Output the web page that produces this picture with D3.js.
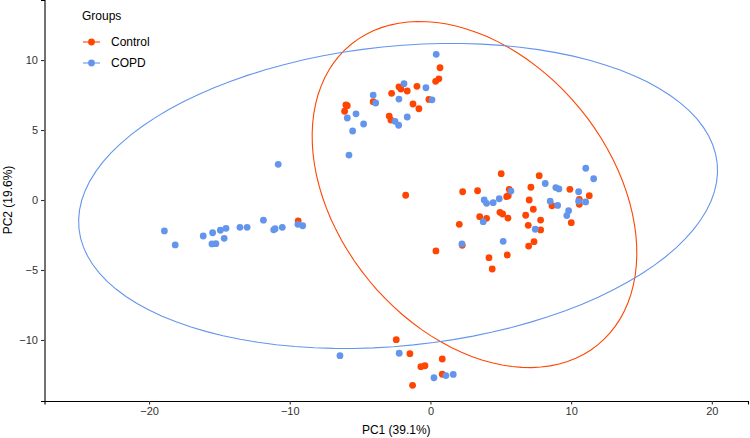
<!DOCTYPE html>
<html>
<head>
<meta charset="utf-8">
<script src="https://cdn.jsdelivr.net/npm/d3@7"></script>
<style>
  body { margin: 0; background: #fff; }
  svg { display: block; font-family: "Liberation Sans", Arial, Helvetica, sans-serif; }
</style>
</head>
<body>
<div class="chart"></div>
<script>
// groups
var groups = ["Control", "COPD"];
var colors = ["#FF4500", "#6495ED"];

// Control scores (PC1, PC2)
var controlPC1 = [0.68, 0.37, 0.60, -2.24, -2.10, -1.65, -0.96, -2.76, -4.07, -1.24, -0.82, -0.11, -6.01, -5.91, -6.10, -2.93, -2.81,
  -9.40,
  5.03, 7.73, 2.29, 3.35, 5.60, 5.42, 5.53, 7.14, 9.91, 11.29, 7.02, 7.31, 8.64, 10.58, 10.58, 10.01, 4.94, 5.13, 5.51, 3.50, 3.99, 2.05,
  6.77, 7.83, 6.95, 7.83, 7.36, 6.98, 2.26, 5.46, 4.16, 4.39, -1.76, 0.39,
  -2.43, -1.46, -0.68, -0.39, 0.84, 0.84, -1.27];
var controlPC2 = [9.45, 8.48, 8.66, 8.09, 7.93, 7.79, 8.12, 7.62, 7.02, 6.86, 6.52, 7.19, 6.79, 6.74, 6.34, 6.00, 5.71,
  -1.50,
  1.88, 1.74, 0.59, 0.66, 0.76, 0.24, 0.31, 0.91, 0.76, 0.31, 0.00, -0.66, -0.41, 0.05, -0.31, -1.62, -0.88, -1.00, -1.29, -1.19, -1.31, -1.74,
  -1.09, -1.43, -1.81, -2.14, -2.98, -3.29, -3.24, -3.93, -4.12, -4.93, 0.34, -3.64,
  -9.98, -10.98, -11.91, -11.84, -11.36, -12.45, -13.24];

// COPD scores (PC1, PC2)
var copdPC1 = [0.41, -1.88, -0.32, -4.07, -3.89, -2.24, 0.11, -5.91, -5.29, -4.75, -5.53, -2.52, -2.26, -1.65, -5.79,
  -18.91, -18.14, -16.15, -15.48, -15.53, -15.25, -14.93, -14.53, -14.66, -13.54, -13.03, -11.87, -11.14, -11.04, -10.53, -9.42, -9.08, -10.82,
  11.04, 11.60, 5.72, 4.89, 4.46, 3.99, 3.82, 8.16, 8.91, 9.13, 10.53, 8.51, 9.04, 10.53, 11.03, 9.82, 9.69, 3.75, 7.45, 5.17, 2.24,
  -6.43, -2.22, 0.25, 1.10, 1.62];
var copdPC2 = [10.41, 8.31, 8.02, 7.50, 6.93, 7.21, 7.16, 5.86, 6.16, 5.43, 4.93, 5.62, 5.34, 5.93, 3.21,
  -2.21, -3.21, -2.57, -2.34, -3.14, -3.12, -2.16, -2.02, -2.74, -1.95, -1.95, -1.44, -2.13, -2.05, -1.95, -1.74, -1.84, 2.55,
  2.27, 1.52, 0.64, 0.09, -0.19, -0.24, 0.00, 1.18, 0.89, 0.79, 0.59, -0.09, -0.39, -0.09, -0.14, -0.76, -1.11, -1.55, -2.09, -2.95, -3.14,
  -11.12, -10.95, -12.70, -12.54, -12.46];

// 95% ellipses per group: centre, semi-axes, rotation (degrees)
var ellipseCX = [3.13, -2.3];
var ellipseCY = [0.39, 0.29];
var ellipseA = [13.86, 22.8];
var ellipseB = [9.69, 10.7];
var ellipseAngle = [-50.8, 5.9];

// axes
var xTicks = [-20, -10, 0, 10, 20];
var yTicks = [-10, -5, 0, 5, 10];
var xDomain = [-27.43, 22.57];
var yDomain = [-14.36, 14.29];

var width = 750, height = 438;
var margin = {left: 44.5, right: 2, top: 0, bottom: 37};

var svg = d3.select(".chart").append("svg")
    .attr("width", width)
    .attr("height", height);

var x = d3.scaleLinear().domain(xDomain).range([margin.left, width - margin.right]);
var y = d3.scaleLinear().domain(yDomain).range([height - margin.bottom, margin.top]);

var points = [];
controlPC1.forEach(function (v, i) { points.push({g: 0, x: v, y: controlPC2[i]}); });
copdPC1.forEach(function (v, i) { points.push({g: 1, x: v, y: copdPC2[i]}); });

svg.selectAll("circle.pt")
    .data(points)
    .enter()
        .append("circle")
        .attr("class", "pt")
        .attr("cx", function (d) { return x(d.x); })
        .attr("cy", function (d) { return y(d.y); })
        .attr("r", 3.4)
        .attr("fill", function (d) { return colors[d.g]; });

// ellipse outlines
var line = d3.line()
    .x(function (d) { return x(d[0]); })
    .y(function (d) { return y(d[1]); });

groups.forEach(function (g, i)
{
  var th = ellipseAngle[i] * Math.PI / 180;
  var pts = d3.range(0, 101).map(function (k)
  {
    var t = k / 100 * 2 * Math.PI;
    return [ellipseCX[i] + ellipseA[i] * Math.cos(th) * Math.cos(t) - ellipseB[i] * Math.sin(th) * Math.sin(t),
            ellipseCY[i] + ellipseA[i] * Math.sin(th) * Math.cos(t) + ellipseB[i] * Math.cos(th) * Math.sin(t)];
  });
  svg.append("path")
      .attr("d", line(pts))
      .attr("fill", "none")
      .attr("stroke", colors[i])
      .attr("stroke-width", 1.1);
});

// axes
var xAxis = svg.append("g")
    .attr("transform", "translate(0," + (height - margin.bottom) + ")")
    .call(d3.axisBottom(x).tickValues(xTicks).tickSize(3.5).tickPadding(3).tickFormat(d3.format("d")));
var yAxis = svg.append("g")
    .attr("transform", "translate(" + margin.left + ",0)")
    .call(d3.axisLeft(y).tickValues(yTicks).tickSize(3.5).tickPadding(3).tickFormat(d3.format("d")));

[xAxis, yAxis].forEach(function (a)
{
  a.select(".domain").attr("stroke", "#000").attr("stroke-width", 1.1);
  a.selectAll(".tick line").attr("stroke", "#333").attr("stroke-width", 1.1);
  a.selectAll(".tick text").style("fill", "#333").style("font-size", "11px")
      .style("font-family", "'Liberation Sans', Arial, sans-serif");
});

svg.append("text")
    .attr("x", (margin.left + width - margin.right) / 2)
    .attr("y", 434)
    .attr("text-anchor", "middle")
    .style("font-size", "12px")
    .text("PC1 (39.1%)");

svg.append("text")
    .attr("transform", "translate(12," + y(0) + ") rotate(-90)")
    .attr("text-anchor", "middle")
    .style("font-size", "12px")
    .text("PC2 (19.6%)");

// legend
var legend = svg.append("g").attr("transform", "translate(82,0)");
legend.append("text")
    .attr("x", 0)
    .attr("y", 20)
    .style("font-size", "12px")
    .text("Groups");

groups.forEach(function (g, i)
{
  var ly = 42 + i * 21;
  legend.append("line")
      .attr("x1", 1).attr("x2", 18)
      .attr("y1", ly).attr("y2", ly)
      .attr("stroke", colors[i])
      .attr("stroke-width", 1.1);
  legend.append("circle")
      .attr("cx", 9.5).attr("cy", ly)
      .attr("r", 3.4)
      .attr("fill", colors[i]);
  legend.append("text")
      .attr("x", 29)
      .attr("y", ly + 4)
      .style("font-size", "12px")
      .text(g);
});
</script>
</body>
</html>
